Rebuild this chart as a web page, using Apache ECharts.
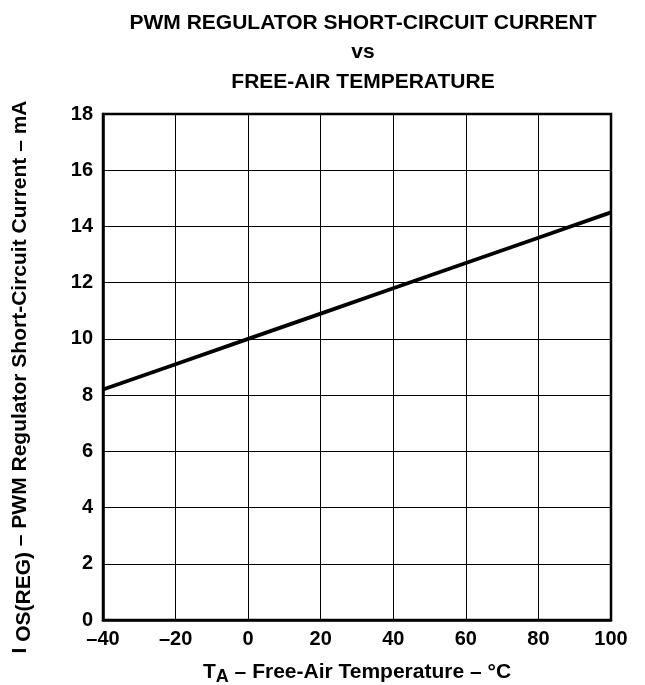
<!DOCTYPE html>
<html><head><meta charset="utf-8">
<script src="https://cdn.jsdelivr.net/npm/echarts@6/dist/echarts.min.js"></script>
<style>html,body{margin:0;padding:0;background:#fff}#c{width:645px;height:685px}</style>
</head><body><div id="c"></div>
<script>
const temps = [-40, -20, 0, 20, 40, 60, 80, 100];
const current = [8.2, 9.1, 10.0, 10.9, 11.8, 12.7, 13.6, 14.5];
const titleLines = ['PWM REGULATOR SHORT-CIRCUIT CURRENT', 'vs', 'FREE-AIR TEMPERATURE'];

const F = '"Liberation Sans", Arial, sans-serif';
const chart = echarts.init(document.getElementById('c'));
chart.setOption({
  animation: false,
  title: {
    text: titleLines.join('\n'),
    left: 358, top: 3, textAlign: 'center',
    textStyle: { fontFamily: F, fontWeight: 'bold', fontSize: 21, lineHeight: 29.5, color: '#000' }
  },
  grid: { left: 103, right: 34, top: 114, bottom: 65, containLabel: false, outerBoundsMode: 'none' },
  xAxis: {
    type: 'value', min: -40, max: 100, interval: 20,
    axisLine: { show: true, onZero: false, lineStyle: { color: '#000', width: 2.5 } },
    axisTick: { show: false },
    splitLine: { show: true, lineStyle: { color: '#000', width: 1 } },
    axisLabel: {
      fontFamily: F, fontWeight: 'bold', fontSize: 20, color: '#000', margin: 9,
      formatter: v => v < 0 ? '\u2013' + Math.abs(v) : String(v)
    },
    name: '{m|T}{s|A}{m| \u2013 Free-Air Temperature \u2013 \u00B0C}',
    nameLocation: 'middle', nameGap: 38,
    nameTextStyle: {
      rich: {
        m: { fontFamily: F, fontWeight: 'bold', fontSize: 21, color: '#000' },
        s: { fontFamily: F, fontWeight: 'bold', fontSize: 18, color: '#000', padding: [10, 0, 0, 0] }
      }
    }
  },
  yAxis: {
    type: 'value', min: 0, max: 18, interval: 2,
    axisLine: { show: true, onZero: false, lineStyle: { color: '#000', width: 2.5 } },
    axisTick: { show: false },
    splitLine: { show: true, lineStyle: { color: '#000', width: 1 } },
    axisLabel: { fontFamily: F, fontWeight: 'bold', fontSize: 20, color: '#000', margin: 10 },
    name: '{m|I }{s|OS(REG)}{m| \u2013 PWM Regulator Short-Circuit Current \u2013 mA}',
    nameLocation: 'middle', nameGap: 68,
    nameTextStyle: {
      padding: [0, 20, 0, 0],
      rich: {
        m: { fontFamily: F, fontWeight: 'bold', fontSize: 21, color: '#000' },
        s: { fontFamily: F, fontWeight: 'bold', fontSize: 21, color: '#000', padding: [8, 0, 0, 0] }
      }
    }
  },
  series: [{
    type: 'line',
    data: temps.map((t, i) => [t, current[i]]),
    showSymbol: false,
    lineStyle: { color: '#000', width: 3.8 }
  }]
});
</script>
<script>
(function(){
  const c = echarts.getInstanceByDom(document.getElementById('c'));
  const g = c.getModel().getComponent('grid').coordinateSystem.getRect();
  c.setOption({ graphic: [{ type: 'rect', shape: { x: g.x, y: g.y, width: g.width, height: g.height },
    style: { fill: 'none', stroke: '#000', lineWidth: 2.5 }, silent: true, z: 10 }] });
})();
</script>
</body></html>
